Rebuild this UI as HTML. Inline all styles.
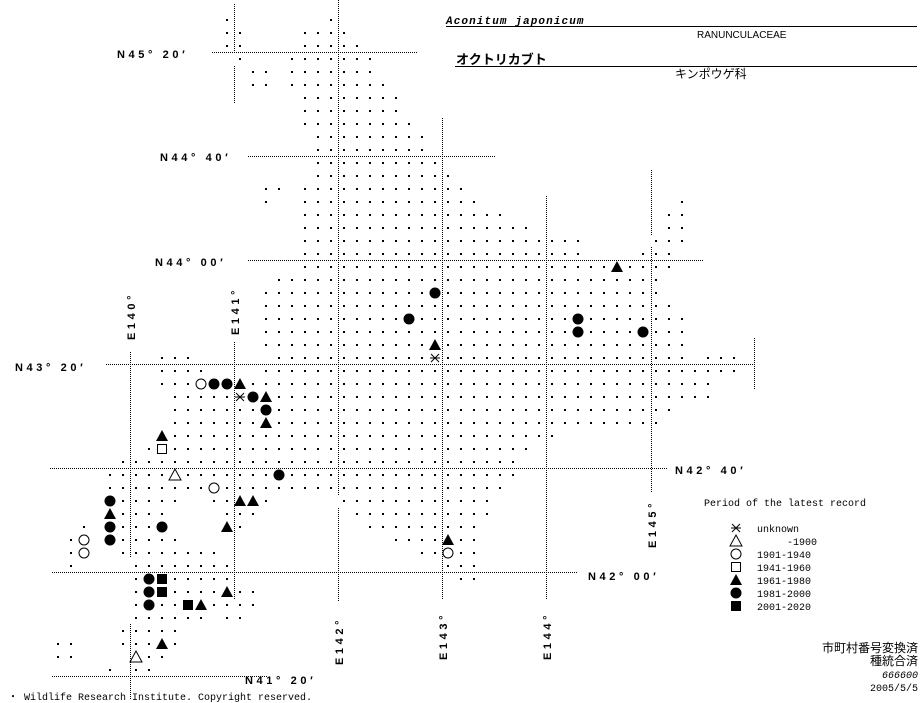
<!DOCTYPE html>
<html><head><meta charset="utf-8"><style>
html,body{margin:0;padding:0;background:#fff;width:923px;height:703px;overflow:hidden}
svg{display:block}
.lb{font-family:"Liberation Sans",sans-serif;font-weight:bold;font-size:11px;letter-spacing:3.6px;fill:#000}
.mono{font-family:"Liberation Mono",monospace;font-size:10px;fill:#000}
.jp{font-family:"Liberation Sans","Noto Sans CJK JP",sans-serif;font-size:11px;fill:#000}
</style></head><body>
<svg id="s" width="923" height="703" viewBox="0 0 923 703" xmlns="http://www.w3.org/2000/svg">
<g stroke="#000" stroke-width="1" stroke-dasharray="1,1" fill="none">
<line x1="212" y1="52.5" x2="417" y2="52.5"/>
<line x1="248" y1="156.5" x2="495" y2="156.5"/>
<line x1="248" y1="260.5" x2="703" y2="260.5"/>
<line x1="106" y1="364.5" x2="754" y2="364.5"/>
<line x1="50" y1="468.5" x2="668" y2="468.5"/>
<line x1="52" y1="572.5" x2="577" y2="572.5"/>
<line x1="52" y1="676.5" x2="268" y2="676.5"/>
<line x1="130.5" y1="352" x2="130.5" y2="558"/>
<line x1="130.5" y1="624" x2="130.5" y2="700"/>
<line x1="234.5" y1="4" x2="234.5" y2="52"/>
<line x1="234.5" y1="66" x2="234.5" y2="104"/>
<line x1="234.5" y1="342" x2="234.5" y2="600"/>
<line x1="338.5" y1="0" x2="338.5" y2="495"/>
<line x1="338.5" y1="508" x2="338.5" y2="602"/>
<line x1="442.5" y1="118" x2="442.5" y2="600"/>
<line x1="546.5" y1="196" x2="546.5" y2="600"/>
<line x1="651.5" y1="170" x2="651.5" y2="235"/>
<line x1="651.5" y1="247" x2="651.5" y2="492"/>
<line x1="754.5" y1="338" x2="754.5" y2="390"/>
</g>
<g id="d"></g>
<text class="lb" x="117" y="58">N45° 20′</text>
<text class="lb" x="160" y="161">N44° 40′</text>
<text class="lb" x="155" y="266">N44° 00′</text>
<text class="lb" x="15" y="371">N43° 20′</text>
<text class="lb" x="675" y="474">N42° 40′</text>
<text class="lb" x="588" y="580">N42° 00′</text>
<text class="lb" x="245" y="684">N41° 20′</text>
<text class="lb" transform="translate(135,340) rotate(-90)">E140°</text>
<text class="lb" transform="translate(239,335) rotate(-90)">E141°</text>
<text class="lb" transform="translate(343,665) rotate(-90)">E142°</text>
<text class="lb" transform="translate(447,660) rotate(-90)">E143°</text>
<text class="lb" transform="translate(551,660) rotate(-90)">E144°</text>
<text class="lb" transform="translate(656,548) rotate(-90)">E145°</text>
<text x="446" y="24" style="font-family:'Liberation Mono',monospace;font-weight:bold;font-style:italic;font-size:11px;letter-spacing:1.1px">Aconitum japonicum</text>
<line x1="446" y1="26.5" x2="917" y2="26.5" stroke="#000"/>
<text x="697" y="38" style="font-family:'Liberation Sans',sans-serif;font-size:10px">RANUNCULACEAE</text>
<text x="456" y="64" class="jp" style="font-weight:bold;font-size:13px">オクトリカブト</text>
<line x1="455" y1="66.5" x2="917" y2="66.5" stroke="#000"/>
<text x="675" y="78" class="jp" style="font-size:12px">キンポウゲ科</text>
<text class="mono" x="704" y="506">Period of the latest record</text>
<text class="mono" x="757" y="532">unknown</text>
<text class="mono" x="757" y="545" xml:space="preserve">     -1900</text>
<text class="mono" x="757" y="558">1901-1940</text>
<text class="mono" x="757" y="571">1941-1960</text>
<text class="mono" x="757" y="584">1961-1980</text>
<text class="mono" x="757" y="597">1981-2000</text>
<text class="mono" x="757" y="610">2001-2020</text>
<text class="jp" x="918" y="652" text-anchor="end" style="font-size:12px">市町村番号変換済</text>
<text class="jp" x="918" y="665" text-anchor="end" style="font-size:12px">種統合済</text>
<text class="mono" x="918" y="678" text-anchor="end" style="font-style:italic">666600</text>
<text class="mono" x="918" y="691" text-anchor="end">2005/5/5</text>
<text class="mono" x="8" y="700">・ Wildlife Research Institute. Copyright reserved.</text>
</svg>
<script>
var rows=[[20,[[227,227],[331,331]]],[33,[[227,240],[305,344]]],[46,[[227,240],[305,357]]],[59,[[240,240],[292,370]]],[72,[[253,266],[292,370]]],[85,[[253,266],[292,383]]],[98,[[305,396]]],[111,[[305,396]]],[124,[[305,409]]],[137,[[318,422]]],[150,[[318,422]]],[163,[[318,435]]],[176,[[318,448]]],[189,[[266,279],[305,461]]],[202,[[266,266],[305,474],[682,682]]],[215,[[305,500],[669,682]]],[228,[[305,526],[669,682]]],[241,[[305,578],[656,682]]],[254,[[305,578],[643,669]]],[267,[[305,669]]],[280,[[279,656]]],[293,[[266,656]]],[306,[[266,669]]],[319,[[266,682]]],[332,[[266,682]]],[345,[[266,682]]],[358,[[162,188],[279,682],[708,734]]],[371,[[162,201],[266,734]]],[384,[[162,708]]],[397,[[175,708]]],[410,[[175,669]]],[423,[[175,656]]],[436,[[175,552]]],[449,[[149,526]]],[462,[[123,513]]],[475,[[110,513]]],[488,[[110,500]]],[501,[[110,175],[214,266],[344,487]]],[514,[[110,162],[227,253],[357,487]]],[527,[[84,84],[110,149],[162,162],[227,240],[370,474]]],[540,[[71,84],[110,175],[396,474]]],[553,[[71,84],[123,214],[422,474]]],[566,[[71,71],[136,227],[448,474]]],[579,[[136,227],[461,474]]],[592,[[136,253]]],[605,[[136,253]]],[618,[[136,201],[227,240]]],[631,[[123,175]]],[644,[[58,71],[123,175]]],[657,[[58,71],[136,162]]],[670,[[110,110],[136,149]]]];
var sy=[['t',617,267],['c',435,293],['c',409,319],['c',578,319],['c',578,332],['c',643,332],['t',435,345],['a',435,358],['oc',201,384],['c',214,384],['c',227,384],['t',240,384],['a',240,397],['c',253,397],['t',266,397],['c',266,410],['t',266,423],['t',162,436],['os',162,449],['ot',175,475],['c',279,475],['oc',214,488],['c',110,501],['t',240,501],['t',253,501],['t',110,514],['c',110,527],['c',162,527],['t',227,527],['c',110,540],['t',448,540],['oc',84,540],['oc',84,553],['oc',448,553],['c',149,579],['s',162,579],['c',149,592],['s',162,592],['t',227,592],['c',149,605],['s',188,605],['t',201,605],['t',162,644],['ot',136,657],
['a',736,528],['ot',736,541],['oc',736,554],['os',736,567],['t',736,580],['c',736,593],['s',736,606]];
var occ={};sy.forEach(function(s){occ[s[1]+','+s[2]]=1});
var h='';
rows.forEach(function(r){var y=r[0];r[1].forEach(function(g){for(var x=g[0];x<=g[1]+1;x+=13){var xx=Math.round((x-g[0])/13)*13+g[0];if(xx>g[1])break;if(occ[xx+','+y])continue;h+='<rect x="'+(xx-1)+'" y="'+(y-1)+'" width="2" height="2"/>';}})});
sy.forEach(function(s){var t=s[0],x=s[1],y=s[2];
if(t=='c')h+='<circle cx="'+x+'" cy="'+y+'" r="5.5"/>';
else if(t=='oc')h+='<circle cx="'+x+'" cy="'+y+'" r="5" fill="#fff" stroke="#000"/>';
else if(t=='t')h+='<polygon points="'+(x-6)+','+(y+5)+' '+(x+6)+','+(y+5)+' '+x+','+(y-6)+'"/>';
else if(t=='ot')h+='<polygon points="'+(x-6)+','+(y+5)+' '+(x+6)+','+(y+5)+' '+x+','+(y-6)+'" fill="#fff" stroke="#000"/>';
else if(t=='s')h+='<rect x="'+(x-5)+'" y="'+(y-5)+'" width="10" height="10"/>';
else if(t=='os')h+='<rect x="'+(x-4.5)+'" y="'+(y-4.5)+'" width="9" height="9" fill="#fff" stroke="#000"/>';
else if(t=='a')h+='<g stroke="#000" stroke-width="1"><line x1="'+(x-5)+'" y1="'+y+'" x2="'+(x+5)+'" y2="'+y+'"/><line x1="'+(x-4)+'" y1="'+(y-4)+'" x2="'+(x+4)+'" y2="'+(y+4)+'"/><line x1="'+(x+4)+'" y1="'+(y-4)+'" x2="'+(x-4)+'" y2="'+(y+4)+'"/></g>';});
document.getElementById('d').innerHTML=h;
</script>
</body></html>
